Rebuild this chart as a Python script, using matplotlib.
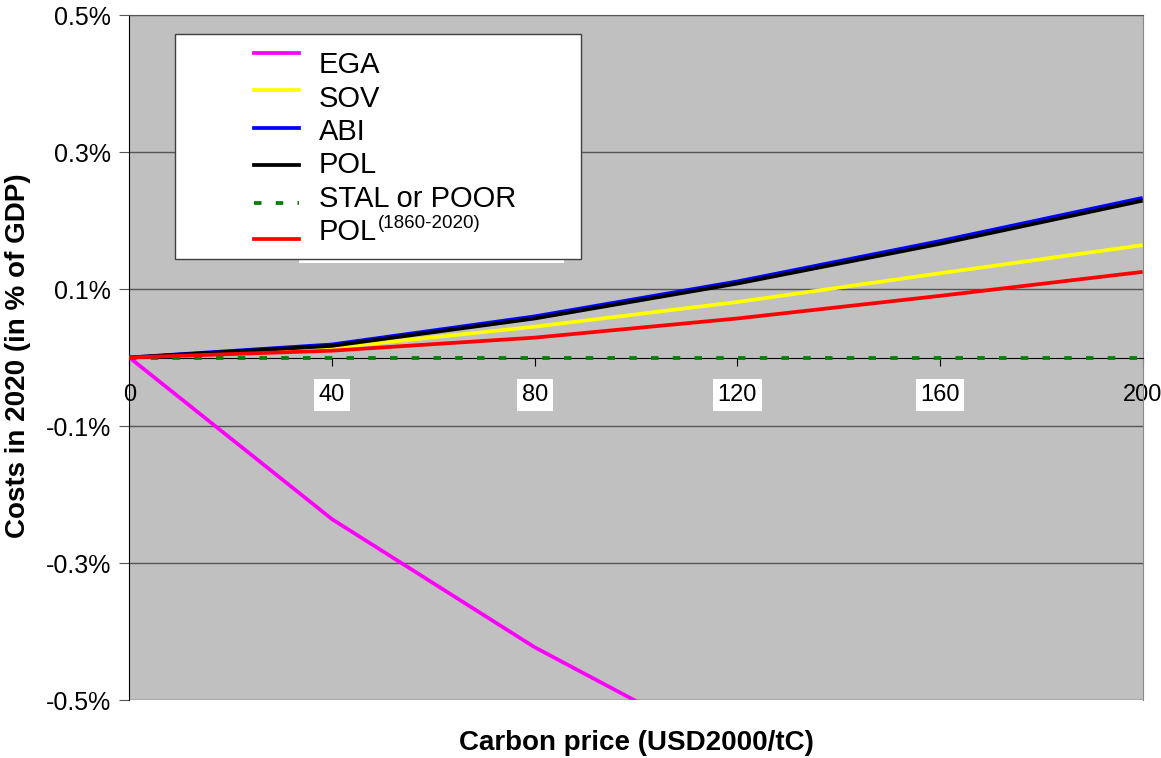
import matplotlib.pyplot as plt
from matplotlib.patches import Rectangle

plt.rcParams['font.family'] = ['Liberation Sans', 'DejaVu Sans']

# carbon price (USD2000/tC) and costs in 2020 (% of GDP)
price = [0, 40, 80, 120, 160, 200]
ega = [0.0, -0.236, -0.423, -0.58, -0.73, -0.87]
sov = [0.0, 0.014, 0.045, 0.081, 0.123, 0.164]
abi = [0.0, 0.019, 0.060, 0.111, 0.170, 0.233]
pol = [0.0, 0.017, 0.057, 0.108, 0.166, 0.229]
stal = [0.0, 0.0, 0.0, 0.0, 0.0, 0.0]
pol_hist = [0.0, 0.010, 0.029, 0.057, 0.090, 0.125]

names = ['EGA', 'SOV', 'ABI', 'POL', 'STAL or POOR', 'POL']
series = [ega, sov, abi, pol, stal, pol_hist]
colors = ['#ff00ff', '#ffff00', '#0000ff', '#000000', '#008000', '#ff0000']

yticks = [-0.5, -0.3, -0.1, 0.1, 0.3, 0.5]
xticks = [0, 40, 80, 120, 160, 200]

fig = plt.figure(figsize=(11.61, 7.58), dpi=100)
ax = fig.add_axes([0.1114, 0.0765, 0.8728, 0.9037])
ax.set_facecolor('#c0c0c0')

ax.set_xlim(0, 200)
ax.set_ylim(-0.5, 0.5)

lw = 2.7
dash = (2.0, 3.8)
for vals, col in zip(series, colors):
    if col == '#008000':
        ax.plot(price, vals, color=col, lw=lw, dashes=dash, zorder=4)
    else:
        ax.plot(price, vals, color=col, lw=lw, zorder=4, solid_capstyle='butt')

# y axis
ax.set_yticks(yticks)
ax.set_yticklabels([f'{v:.1f}%' for v in yticks], fontsize=18)
ax.yaxis.grid(True, color='#555555', lw=1)
ax.tick_params(axis='y', length=7, color='#555555', pad=6)

# x axis sits on the zero line
ax.spines['bottom'].set_position(('data', 0))
ax.spines['bottom'].set_color('black')
ax.spines['bottom'].set_zorder(3)
ax.set_xticks(xticks)
ax.set_xticklabels([str(v) for v in xticks], fontsize=17)
ax.tick_params(axis='x', length=6, direction='out', pad=13)
for lbl, v in zip(ax.get_xticklabels(), xticks):
    if 0 < v < 200:
        lbl.set_bbox(dict(facecolor='white', edgecolor='none', boxstyle='square,pad=0.2'))
ax.set_axisbelow(True)

ax.spines['left'].set_color('black')
ax.spines['top'].set_color('#555555')
ax.spines['right'].set_color('#888888')

fig.text(636 / 1161, 1 - 743 / 758, 'Carbon price (USD2000/tC)', fontsize=20,
         fontweight='bold', ha='center', va='center')
fig.text(18 / 1161, 1 - 356 / 758, 'Costs in 2020 (in % of GDP)', fontsize=20,
         fontweight='bold', ha='center', va='center', rotation=90)


# legend drawn by hand, positions in figure pixels
def fx(px):
    return px / 1161


def fy(py):
    return 1 - py / 758


fig.patches.append(Rectangle((fx(299), fy(263)), fx(564) - fx(299), fy(250) - fy(263),
                             transform=fig.transFigure, facecolor='white',
                             edgecolor='none', zorder=5))
fig.patches.append(Rectangle((fx(175), fy(259)), fx(581) - fx(175), fy(34) - fy(259),
                             transform=fig.transFigure, facecolor='white',
                             edgecolor='#404040', lw=1, zorder=5))

handle_y = [53, 90, 128, 165, 203, 239]
text_base = [73, 107, 140, 173, 207, 240]
for name, col, hy, ty in zip(names, colors, handle_y, text_base):
    if col == '#008000':
        fig.add_artist(plt.Line2D([fx(254), fx(299)], [fy(hy), fy(hy)], color=col, lw=lw,
                                  dashes=dash, transform=fig.transFigure, zorder=6))
    else:
        fig.add_artist(plt.Line2D([fx(254), fx(299)], [fy(hy), fy(hy)], color=col, lw=lw,
                                  transform=fig.transFigure, zorder=6))
    fig.text(fx(319), fy(ty), name, fontsize=21, va='baseline', ha='left', zorder=7)
fig.text(fx(378), fy(228), '(1860-2020)', fontsize=13.5, va='baseline', ha='left', zorder=7)

fig.savefig('out.png', dpi=100)
